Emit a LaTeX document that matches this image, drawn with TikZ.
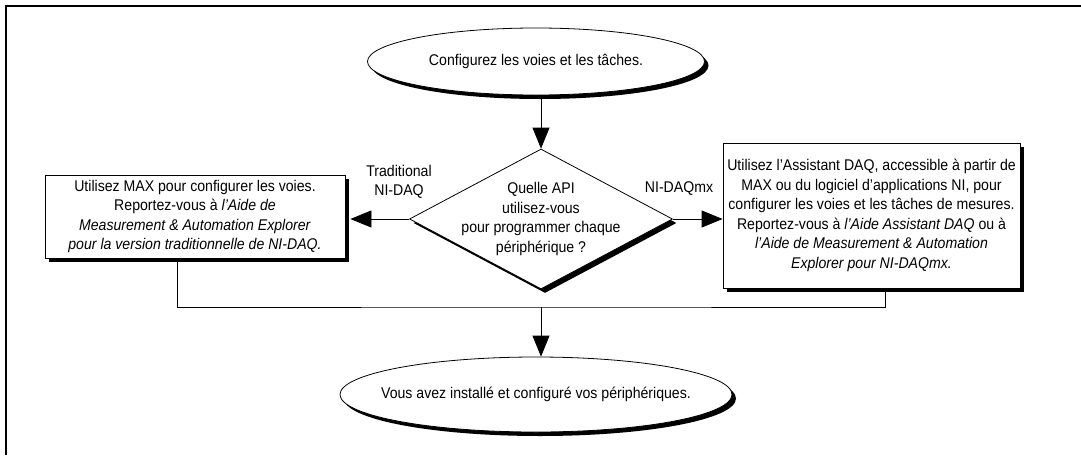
\documentclass[tikz,border=0pt]{standalone}
\usepackage{fontspec}
\setmainfont{Liberation Sans}[FakeStretch=0.91]
\usetikzlibrary{arrows.meta,shapes.geometric,shadows}
\tikzset{
  >={Triangle[length=21pt,width=17pt]},
  every node/.style={font=\fontsize{15.5}{19.5}\selectfont},
  shadowed/.style={drop shadow={shadow xshift=4pt,shadow yshift=-4pt,fill=black,opacity=1}},
  terminal/.style={ellipse,draw,line width=0.8pt,fill=white,shadowed,inner sep=0pt},
  decision/.style={diamond,draw,line width=0.8pt,fill=white,shadowed,inner sep=0pt},
  stepbox/.style={draw,line width=0.8pt,fill=white,shadowed,align=center,inner sep=2pt},
  connector/.style={line width=0.8pt},
  flowarrow/.style={connector,->},
  branch/.style={align=center,inner sep=1pt},
}

\begin{document}
\begin{tikzpicture}[x=1pt,y=-1pt]
  \useasboundingbox (0,0) rectangle (1081,455);
  \draw[line width=2pt] (6,455) -- (6,6) -- (1081,6);

  \node[terminal,minimum width=337pt,minimum height=67pt,
        label=center:{Configurez les voies et les tâches.}] (config) at (536,61.5) {};
  \node[decision,minimum width=263pt,minimum height=140pt,
        label={[align=center]center:Quelle API\\utilisez-vous\\pour programmer chaque\\périphérique ?}] (api) at (541,219) {};
  \node[stepbox,minimum width=300pt,minimum height=83pt] (maxbox) at (195,216.5)
    {Utilisez MAX pour configurer les voies.\\Reportez-vous à \textit{l'Aide de}\\\textit{Measurement \& Automation Explorer}\\\textit{pour la version traditionnelle de NI-DAQ.}};
  \node[stepbox,minimum width=297pt,minimum height=145pt] (assist) at (871.5,215.5)
    {Utilisez l'Assistant DAQ, accessible à partir de\\MAX ou du logiciel d'applications NI, pour\\configurer les voies et les tâches de mesures.\\Reportez-vous à \textit{l'Aide Assistant DAQ} ou à\\\textit{l'Aide de Measurement \& Automation}\\\textit{Explorer pour NI-DAQmx.}};
  \node[terminal,minimum width=392pt,minimum height=75pt,
        label=center:{Vous avez installé et configuré vos périphériques.}] (done) at (536,394.5) {};

  \node[branch] (trad) at (399,182) {Traditional\\NI-DAQ};
  \node[branch] (mx) at (679,189) {NI-DAQmx};

  \coordinate (merge) at (541,307);
  \draw[flowarrow] (config.south -| api.north) -- (api.north);
  \draw[flowarrow,shorten >=5pt] (api.west) -- (api.west -| maxbox.east);
  \draw[flowarrow] (api.east) -- (api.east -| assist.west);
  \draw[connector] ([xshift=-18pt]maxbox.south) |- (merge) -| ([xshift=14pt]assist.south);
  \draw[flowarrow] (merge) -- (merge |- done.north);
\end{tikzpicture}
\end{document}
